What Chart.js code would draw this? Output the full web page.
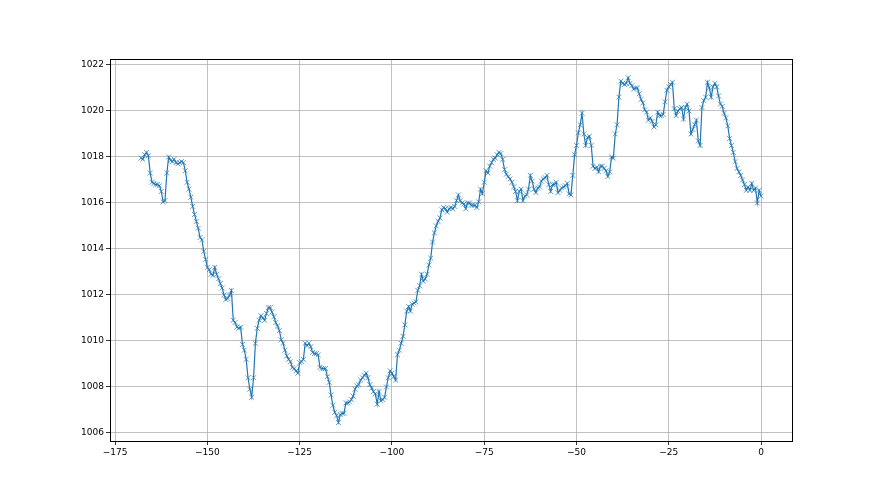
<!DOCTYPE html>
<html>
<head>
<meta charset="utf-8">
<script src="https://cdn.jsdelivr.net/npm/chart.js@4.4.1/dist/chart.umd.min.js"></script>
<style>
  html, body { margin: 0; padding: 0; background: #fff; }
  #wrap { width: 880px; height: 495px; }
</style>
</head>
<body>
<div id="wrap"><canvas id="pressureChart" width="880" height="495"></canvas></div>
<script>
// hours before now, one reading every half hour
const startHour = -168;
const stepHour = 0.5;

// pressure readings (hPa)
const pressure = [
  1017.95, 1017.9, 1018.1, 1018.2, 1018.05, 1017.3, 1016.9, 1016.85, 1016.8, 1016.8,
  1016.75, 1016.5, 1016.05, 1016.1, 1017.3, 1018.0, 1017.85, 1017.8, 1017.9, 1017.75,
  1017.7, 1017.75, 1017.8, 1017.75, 1017.4, 1016.9, 1016.6, 1016.25, 1015.85, 1015.5,
  1015.2, 1014.9, 1014.5, 1014.4, 1013.9, 1013.55, 1013.2, 1013.1, 1012.9, 1012.85,
  1013.2, 1012.9, 1012.7, 1012.5, 1012.3, 1012.0, 1011.8, 1011.85, 1012.0, 1012.2,
  1010.9, 1010.8, 1010.6, 1010.55, 1010.6, 1009.85, 1009.6, 1009.2, 1008.4, 1007.9,
  1007.55, 1008.4, 1009.9, 1010.55, 1010.9, 1011.1, 1011.0, 1010.9, 1011.2, 1011.45,
  1011.45, 1011.25, 1011.05, 1010.8, 1010.65, 1010.45, 1010.05, 1009.9, 1009.6, 1009.35,
  1009.2, 1009.1, 1008.85, 1008.8, 1008.7, 1008.6, 1009.05, 1009.1, 1009.2, 1009.9,
  1009.8, 1009.9, 1009.75, 1009.5, 1009.45, 1009.45, 1009.4, 1008.85, 1008.8, 1008.8,
  1008.8, 1008.45, 1008.2, 1007.65, 1007.2, 1006.9, 1006.75, 1006.45, 1006.8, 1006.85,
  1006.85, 1007.3, 1007.3, 1007.35, 1007.45, 1007.6, 1007.9, 1008.05, 1008.1, 1008.3,
  1008.4, 1008.5, 1008.6, 1008.4, 1008.1, 1007.95, 1007.8, 1007.7, 1007.25, 1007.8,
  1007.4, 1007.45, 1007.55, 1008.0, 1008.4, 1008.7, 1008.6, 1008.45, 1008.3, 1009.4,
  1009.6, 1009.9, 1010.2, 1010.7, 1011.3, 1011.5, 1011.3, 1011.6, 1011.65, 1011.7,
  1012.2, 1012.4, 1012.9, 1012.6, 1012.7, 1012.9, 1013.3, 1013.6, 1014.3, 1014.7,
  1015.0, 1015.2, 1015.35, 1015.7, 1015.8, 1015.75, 1015.6, 1015.75, 1015.8, 1015.75,
  1015.85, 1016.1, 1016.35, 1016.1, 1016.0, 1015.95, 1015.75, 1016.0, 1016.0, 1015.9,
  1015.9, 1015.9, 1015.8, 1016.05, 1016.6, 1016.4, 1016.9, 1017.4, 1017.3, 1017.6,
  1017.75, 1017.9, 1017.95, 1018.1, 1018.2, 1018.15, 1017.9, 1017.45, 1017.25, 1017.15,
  1017.05, 1016.9, 1016.7, 1016.5, 1016.1, 1016.5, 1016.6, 1016.1, 1016.3, 1016.35,
  1016.6, 1017.2, 1016.95, 1016.6, 1016.45, 1016.65, 1016.7, 1016.95, 1017.05, 1017.1,
  1017.2, 1016.8, 1016.5, 1016.8, 1016.8, 1016.9, 1016.45, 1016.55, 1016.65, 1016.7,
  1016.75, 1016.85, 1016.4, 1016.35, 1017.2, 1018.1, 1018.5, 1019.05, 1019.4, 1019.9,
  1019.0, 1018.5, 1018.85, 1018.9, 1018.5, 1017.6, 1017.5, 1017.55, 1017.35, 1017.6,
  1017.6, 1017.5, 1017.4, 1017.15, 1017.35, 1018.0, 1017.95, 1019.0, 1019.4, 1020.6,
  1021.3, 1021.2, 1021.15, 1021.2, 1021.45, 1021.2, 1021.1, 1020.95, 1021.0, 1021.0,
  1020.75, 1020.5, 1020.35, 1020.05, 1019.95, 1019.6, 1019.7, 1019.55, 1019.3, 1019.4,
  1019.95, 1019.8, 1019.8, 1019.85, 1020.4, 1020.9, 1021.05, 1021.15, 1021.25, 1020.1,
  1019.8, 1020.0, 1020.1, 1020.15, 1019.65, 1020.15, 1020.3, 1020.0, 1019.0, 1019.2,
  1019.4, 1019.6, 1018.7, 1018.5, 1020.15, 1020.45, 1020.6, 1021.25, 1021.0, 1020.6,
  1021.05, 1021.2, 1021.05, 1020.65, 1020.3, 1020.2, 1019.9, 1019.7, 1019.35, 1018.8,
  1018.5, 1018.2, 1017.8, 1017.5, 1017.35, 1017.2, 1017.0, 1016.8, 1016.55, 1016.7,
  1016.55, 1016.85, 1016.55, 1016.65, 1016.0, 1016.55, 1016.3
];

const xTicks = [-175, -150, -125, -100, -75, -50, -25, 0];
const yTicks = [1006, 1008, 1010, 1012, 1014, 1016, 1018, 1020, 1022];

const points = pressure.map((p, i) => ({ x: startHour + i * stepHour, y: p }));

const frame = {
  id: 'frame',
  afterDraw(chart) {
    const { ctx, chartArea: a } = chart;
    ctx.save();
    ctx.strokeStyle = '#000';
    ctx.lineWidth = 1;
    ctx.strokeRect(Math.round(a.left) + 0.5, Math.round(a.top) + 0.5,
      Math.round(a.right - a.left), Math.round(a.bottom - a.top));
    ctx.restore();
  }
};

const minus = v => String(v).replace('-', '\u2212');

new Chart(document.getElementById('pressureChart'), {
  type: 'line',
  data: {
    datasets: [{
      data: points,
      borderColor: '#1f77b4',
      borderWidth: 1.2,
      pointStyle: 'crossRot',
      pointRadius: 3.5,
      pointBorderWidth: 1,
      pointBorderColor: 'rgba(31,119,180,0.7)',
      pointBackgroundColor: 'rgba(31,119,180,0.7)',
      tension: 0,
      fill: false
    }]
  },
  options: {
    responsive: false,
    animation: false,
    layout: { padding: { left: 0, right: 88, top: 59, bottom: 0 } },
    plugins: { legend: { display: false }, tooltip: { enabled: false } },
    scales: {
      x: {
        type: 'linear',
        min: -176.4,
        max: 8.4,
        afterBuildTicks: s => { s.ticks = xTicks.map(v => ({ value: v })); },
        afterFit: s => { s.height = 54; },
        grid: { color: '#b0b0b0', lineWidth: 0.8, tickColor: '#000', tickLength: 4 },
        border: { display: false },
        ticks: {
          color: '#000',
          font: { family: 'DejaVu Sans', size: 9 },
          padding: 2,
          maxRotation: 0,
          callback: v => minus(v)
        }
      },
      y: {
        type: 'linear',
        min: 1005.65,
        max: 1022.26,
        afterBuildTicks: s => { s.ticks = yTicks.map(v => ({ value: v })); },
        afterFit: s => { s.width = 110; },
        grid: { color: '#b0b0b0', lineWidth: 0.8, tickColor: '#000', tickLength: 4 },
        border: { display: false },
        ticks: {
          color: '#000',
          font: { family: 'DejaVu Sans', size: 9 },
          padding: 2,
          callback: v => String(v)
        }
      }
    }
  },
  plugins: [frame]
});
</script>
</body>
</html>
